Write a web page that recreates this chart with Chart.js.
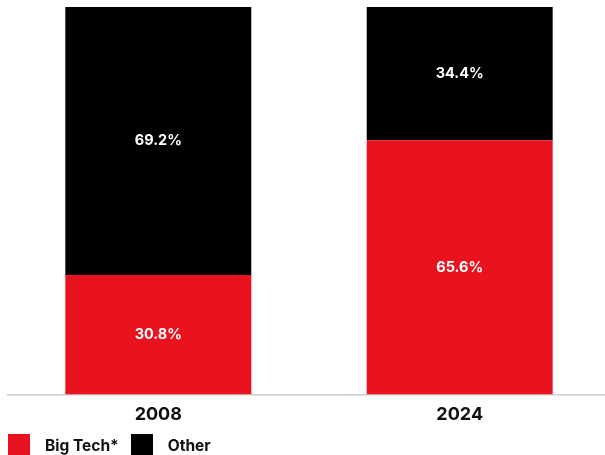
<!DOCTYPE html>
<html>
<head>
<meta charset="utf-8">
<script src="https://cdn.jsdelivr.net/npm/chart.js@4/dist/chart.umd.min.js"></script>
<style>
  html, body { margin: 0; padding: 0; background: #fff; }
  #wrap { position: relative; width: 605px; height: 455px; overflow: hidden; }
  #box { position: absolute; left: 0; top: 0; width: 611px; height: 455px; }
  #legend { position: absolute; left: 8px; top: 434px; display: flex; align-items: center;
            font-family: Inter, "Noto Sans", sans-serif; font-weight: 700; font-size: 15.5px; color: #111; }
  .item { display: flex; align-items: center; margin-right: 12px; }
  .sw { width: 22px; height: 22px; margin-right: 15px; }
</style>
</head>
<body>
<div id="wrap">
  <div id="box"><canvas id="c" width="611" height="455"></canvas></div>
  <div id="legend"></div>
</div>
<script>
const categories = ["2008", "2024"];
const seriesNames = ["Big Tech*", "Other"];
const bigTech = [30.8, 65.6];
const other = [69.2, 34.4];
const colors = ["#e9121f", "#000000"];

const FONT = 'Inter, "Noto Sans", sans-serif';

const labelPlugin = {
  id: 'barLabels',
  afterDatasetsDraw(chart) {
    const ctx = chart.ctx;
    ctx.save();
    ctx.fillStyle = '#ffffff';
    ctx.font = '700 14.5px ' + FONT;
    ctx.textAlign = 'center';
    ctx.textBaseline = 'middle';
    chart.data.datasets.forEach((ds, di) => {
      const meta = chart.getDatasetMeta(di);
      meta.data.forEach((el, i) => {
        const top = Math.min(el.y, el.base), bot = Math.max(el.y, el.base);
        ctx.fillText(ds.data[i].toFixed(1) + '%', el.x, (top + bot) / 2);
      });
    });
    ctx.restore();
  }
};

new Chart(document.getElementById('c'), {
  type: 'bar',
  data: {
    labels: categories,
    datasets: [
      { label: seriesNames[0], data: bigTech, backgroundColor: colors[0], borderWidth: 0 },
      { label: seriesNames[1], data: other, backgroundColor: colors[1], borderWidth: 0 }
    ]
  },
  options: {
    responsive: false,
    animation: false,
    devicePixelRatio: 1,
    barPercentage: 0.617,
    categoryPercentage: 1,
    layout: { padding: { left: 7.6, right: 0.6, top: 7, bottom: 21 } },
    plugins: { legend: { display: false }, tooltip: { enabled: false } },
    scales: {
      x: {
        stacked: true,
        grid: { display: false, drawTicks: false },
        border: { display: true, color: '#cccccc', width: 1.5 },
        ticks: { color: '#111111', padding: 9, font: { family: FONT, weight: '700', size: 18 } }
      },
      y: {
        stacked: true, display: false, min: 0, max: 100
      }
    }
  },
  plugins: [labelPlugin]
});

const lg = document.getElementById('legend');
seriesNames.forEach((n, i) => {
  const it = document.createElement('div'); it.className = 'item';
  const sw = document.createElement('div'); sw.className = 'sw'; sw.style.background = colors[i];
  const tx = document.createElement('span'); tx.textContent = n;
  it.appendChild(sw); it.appendChild(tx); lg.appendChild(it);
});
</script>
</body>
</html>
